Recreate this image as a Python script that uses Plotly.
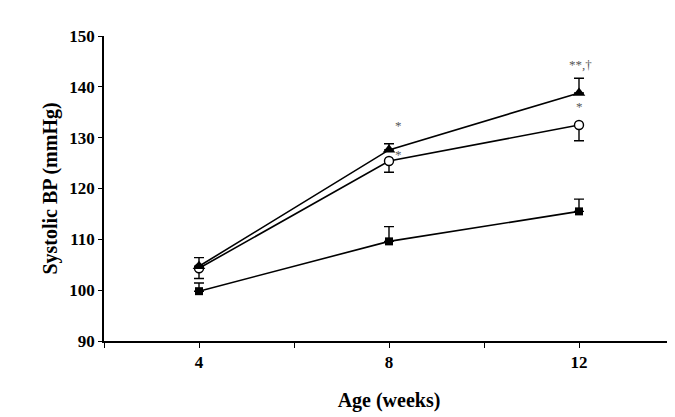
import plotly.graph_objects as go

ages = [4, 8, 12]
tri_vals = [104.7, 127.6, 138.8]
tri_err = [1.7, 1.2, 2.9]
circ_vals = [104.3, 125.4, 132.5]
circ_err = [2.0, 2.2, 3.1]
sq_vals = [99.8, 109.6, 115.5]
sq_err = [1.6, 2.9, 2.4]

x_tickvals = [2, 4, 6, 8, 10, 12, 14]
x_ticktext = ["", "4", "", "8", "", "12", ""]
y_tickvals = [90, 100, 110, 120, 130, 140, 150]

sig_x = [8.21, 8.21, 12.03, 12.0]
sig_y = [132.4, 126.6, 144.3, 136.1]
sig_text = ["*", "*", "**,†", "*"]

fig = go.Figure()

fig.add_trace(go.Scatter(
    x=ages, y=sq_vals, mode="lines+markers",
    line=dict(color="black", width=1.6),
    marker=dict(symbol="square", size=8, color="black"),
    error_y=dict(type="data", symmetric=False, array=sq_err, arrayminus=[0, 0, 0],
                 color="black", thickness=1.4, width=5),
    showlegend=False,
))
fig.add_trace(go.Scatter(
    x=ages, y=circ_vals, mode="lines+markers",
    line=dict(color="black", width=1.6),
    marker=dict(symbol="circle", size=9, color="white", line=dict(color="black", width=1.4)),
    error_y=dict(type="data", symmetric=False, array=[0, 0, 0], arrayminus=circ_err,
                 color="black", thickness=1.4, width=5),
    showlegend=False,
))
fig.add_trace(go.Scatter(
    x=ages, y=tri_vals, mode="lines+markers",
    line=dict(color="black", width=1.6),
    marker=dict(symbol="triangle-up", size=11, color="black"),
    error_y=dict(type="data", symmetric=False, array=tri_err, arrayminus=[0, 0, 0],
                 color="black", thickness=1.4, width=5),
    showlegend=False,
))

for xs, ys, t in zip(sig_x, sig_y, sig_text):
    fig.add_annotation(x=xs, y=ys, text=t, showarrow=False,
                       font=dict(family="Liberation Serif", size=13, color="#555555"))

fig.update_layout(
    width=667, height=409,
    margin=dict(l=96, r=1, t=28, b=76),
    paper_bgcolor="white", plot_bgcolor="white",
    font=dict(family="Liberation Serif", color="black"),
)
fig.update_xaxes(
    range=[2, 14], tickvals=x_tickvals, ticktext=x_ticktext,
    showline=True, linecolor="black", linewidth=1.5,
    ticks="outside", ticklen=5, tickwidth=1.2, tickcolor="black",
    showgrid=False, zeroline=False,
    tickfont=dict(family="Liberation Serif", size=17, color="black", weight="bold"),
    title=dict(text="<b>Age (weeks)</b>", font=dict(family="Liberation Serif", size=20, color="black"), standoff=22),
)
fig.update_yaxes(
    range=[90, 150], tickvals=y_tickvals,
    showline=True, linecolor="black", linewidth=1.5,
    ticks="outside", ticklen=4, tickwidth=1.2, tickcolor="black",
    showgrid=False, zeroline=False,
    tickfont=dict(family="Liberation Serif", size=17, color="black", weight="bold"),
    title=dict(text="<b>Systolic BP (mmHg)</b>", font=dict(family="Liberation Serif", size=20, color="black"), standoff=6),
)

fig.write_html("out.html")
